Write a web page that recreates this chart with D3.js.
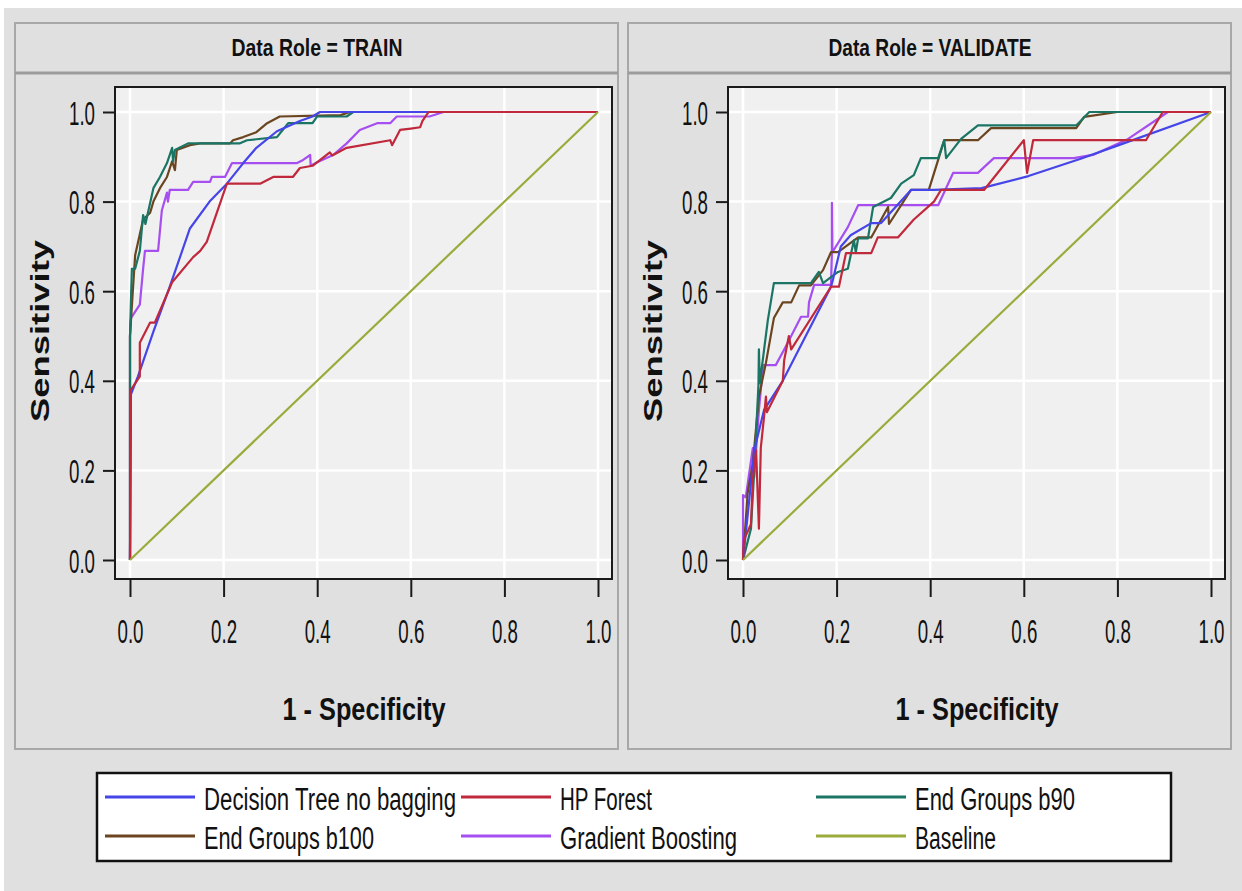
<!DOCTYPE html>
<html><head><meta charset="utf-8">
<script src="https://cdn.jsdelivr.net/npm/d3@7"></script>
<style>html,body{margin:0;padding:0;background:#fff;}svg{display:block;}</style>
</head><body>
<svg id="chart" width="1242" height="891"></svg>
<script>
// ---------- data ----------
const seriesNames = ["Decision Tree no bagging","HP Forest","End Groups b90","End Groups b100","Gradient Boosting","Baseline"];
const seriesColors = ["#4545e8","#c0283c","#1b7565","#6a4520","#a64ef0","#9aab3c"];
const xTicks = [0,0.2,0.4,0.6,0.8,1.0];
const yTicks = [0,0.2,0.4,0.6,0.8,1.0];
const panelTitles = ["Data Role = TRAIN","Data Role = VALIDATE"];

// TRAIN
const trainDecisionTree = [[0,0],[0.002,0.37],[0.017,0.41],[0.05,0.51],[0.085,0.61],[0.128,0.74],[0.17,0.80],[0.207,0.84],[0.242,0.886],[0.27,0.92],[0.314,0.957],[0.363,0.98],[0.39,0.99],[0.406,1.0],[1,1]];
const trainHPForest = [[0,0],[0.002,0.38],[0.021,0.41],[0.021,0.485],[0.043,0.53],[0.053,0.53],[0.09,0.62],[0.135,0.676],[0.15,0.69],[0.164,0.71],[0.207,0.84],[0.278,0.84],[0.306,0.855],[0.348,0.855],[0.363,0.875],[0.39,0.88],[0.427,0.91],[0.432,0.903],[0.463,0.92],[0.556,0.937],[0.56,0.926],[0.577,0.96],[0.6,0.963],[0.62,0.966],[0.625,0.98],[0.638,1.0],[1,1]];
const trainB90 = [[0,0],[0,0.5],[0.002,0.58],[0.004,0.65],[0.011,0.65],[0.021,0.69],[0.028,0.77],[0.033,0.75],[0.05,0.83],[0.064,0.855],[0.079,0.886],[0.09,0.92],[0.092,0.89],[0.096,0.915],[0.124,0.93],[0.235,0.93],[0.25,0.937],[0.314,0.944],[0.338,0.975],[0.39,0.975],[0.4,0.99],[0.463,0.99],[0.477,1.0],[1,1]];
const trainB100 = [[0,0],[0,0.5],[0.006,0.6],[0.011,0.68],[0.028,0.76],[0.043,0.775],[0.05,0.80],[0.064,0.83],[0.079,0.855],[0.09,0.89],[0.096,0.87],[0.1,0.915],[0.128,0.926],[0.15,0.93],[0.214,0.93],[0.22,0.937],[0.242,0.944],[0.27,0.955],[0.293,0.975],[0.32,0.99],[0.45,0.993],[0.47,1.0],[1,1]];
const trainGradBoost = [[0,0],[0,0.5],[0.002,0.54],[0.021,0.57],[0.028,0.65],[0.032,0.69],[0.06,0.69],[0.068,0.78],[0.079,0.82],[0.081,0.80],[0.085,0.826],[0.124,0.826],[0.135,0.844],[0.171,0.844],[0.175,0.855],[0.203,0.855],[0.218,0.886],[0.357,0.886],[0.37,0.893],[0.385,0.904],[0.386,0.88],[0.4,0.888],[0.434,0.904],[0.463,0.93],[0.491,0.96],[0.528,0.975],[0.556,0.975],[0.57,0.99],[0.64,0.99],[0.67,1.0],[1,1]];
const trainBaseline = [[0,0],[1,1]];

// VALIDATE
const valDecisionTree = [[0,0],[0.01,0.1],[0.024,0.245],[0.045,0.335],[0.085,0.40],[0.188,0.61],[0.192,0.625],[0.209,0.70],[0.23,0.725],[0.274,0.752],[0.295,0.752],[0.359,0.826],[0.408,0.826],[0.51,0.83],[0.61,0.857],[0.72,0.895],[0.8,0.925],[1,1]];
const valHPForest = [[0,0],[0.002,0.045],[0.017,0.08],[0.021,0.18],[0.028,0.245],[0.034,0.07],[0.038,0.25],[0.045,0.32],[0.049,0.365],[0.051,0.33],[0.085,0.40],[0.088,0.446],[0.098,0.50],[0.103,0.47],[0.188,0.61],[0.205,0.61],[0.22,0.685],[0.274,0.685],[0.288,0.72],[0.331,0.72],[0.365,0.76],[0.408,0.80],[0.423,0.826],[0.515,0.826],[0.60,0.937],[0.607,0.864],[0.62,0.937],[0.861,0.937],[0.897,1.0],[1,1]];
const valB90 = [[0,0],[0.017,0.07],[0.024,0.2],[0.033,0.39],[0.034,0.47],[0.036,0.395],[0.053,0.535],[0.066,0.618],[0.145,0.618],[0.162,0.643],[0.171,0.618],[0.203,0.643],[0.224,0.65],[0.237,0.714],[0.241,0.687],[0.246,0.718],[0.267,0.718],[0.278,0.788],[0.316,0.808],[0.338,0.84],[0.365,0.859],[0.38,0.897],[0.417,0.897],[0.43,0.937],[0.434,0.897],[0.466,0.94],[0.502,0.97],[0.712,0.97],[0.74,1.0],[1,1]];
const valB100 = [[0,0],[0.01,0.15],[0.021,0.215],[0.034,0.365],[0.049,0.44],[0.066,0.54],[0.085,0.575],[0.103,0.575],[0.12,0.613],[0.145,0.613],[0.171,0.647],[0.188,0.687],[0.203,0.687],[0.246,0.72],[0.274,0.72],[0.31,0.788],[0.312,0.75],[0.359,0.826],[0.397,0.826],[0.417,0.893],[0.43,0.937],[0.502,0.937],[0.53,0.964],[0.712,0.964],[0.729,0.989],[0.8,1.0],[1,1]];
const valGradBoost = [[0,0],[0,0.145],[0.006,0.14],[0.021,0.25],[0.024,0.185],[0.034,0.335],[0.043,0.435],[0.07,0.435],[0.088,0.47],[0.103,0.50],[0.124,0.543],[0.139,0.543],[0.141,0.575],[0.152,0.614],[0.188,0.614],[0.19,0.687],[0.19,0.797],[0.191,0.687],[0.224,0.743],[0.246,0.792],[0.417,0.792],[0.449,0.864],[0.502,0.864],[0.536,0.897],[0.707,0.897],[0.75,0.905],[0.823,0.94],[0.908,1.0],[1,1]];
const valBaseline = [[0,0],[1,1]];

const trainSeries = [trainDecisionTree, trainHPForest, trainB90, trainB100, trainGradBoost, trainBaseline];
const valSeries = [valDecisionTree, valHPForest, valB90, valB100, valGradBoost, valBaseline];

// ---------- drawing ----------
const svg = d3.select("#chart");
const FONT = "'Liberation Sans', Arial, sans-serif";
svg.append("rect").attr("x",4).attr("y",8).attr("width",1238).attr("height",883).attr("fill","#e0e0e0");

const drawOrder = [4,3,2,0,1,5];

function drawPanel(dx, title, titleW, series) {
  const g = svg.append("g");
  g.append("rect").attr("x",15+dx).attr("y",23).attr("width",603).attr("height",726)
    .attr("fill","#e0e0e0").attr("stroke","#a8a8a8").attr("stroke-width",2);
  g.append("line").attr("x1",15+dx).attr("x2",618+dx).attr("y1",73).attr("y2",73)
    .attr("stroke","#9c9c9c").attr("stroke-width",3);
  g.append("text").attr("x",317+dx).attr("y",56).attr("text-anchor","middle")
    .attr("font-family",FONT).attr("font-weight","bold").attr("font-size",24)
    .attr("textLength",titleW).attr("lengthAdjust","spacingAndGlyphs").attr("fill","#111").text(title);

  const x = d3.scaleLinear().domain([0,1]).range([130+dx, 598+dx]);
  const y = d3.scaleLinear().domain([0,1]).range([560,112]);
  const fx0 = 115+dx, fx1 = 612+dx, fy0 = 87, fy1 = 579;

  g.append("rect").attr("x",fx0).attr("y",fy0).attr("width",fx1-fx0).attr("height",fy1-fy0).attr("fill","#f0f0f0");
  g.selectAll(".gy").data(yTicks).join("line").attr("x1",fx0).attr("x2",fx1)
    .attr("y1",d=>y(d)).attr("y2",d=>y(d)).attr("stroke","#ffffff").attr("stroke-width",2.5);
  g.selectAll(".gx").data(xTicks).join("line").attr("y1",fy0).attr("y2",fy1)
    .attr("x1",d=>x(d)).attr("x2",d=>x(d)).attr("stroke","#ffffff").attr("stroke-width",2.5);

  const line = d3.line().x(d=>x(d[0])).y(d=>y(d[1]));
  drawOrder.forEach(i => {
    g.append("path").datum(series[i]).attr("d",line).attr("fill","none")
      .attr("stroke",seriesColors[i]).attr("stroke-width",2.2).attr("stroke-linejoin","round");
  });

  g.append("rect").attr("x",fx0).attr("y",fy0).attr("width",fx1-fx0).attr("height",fy1-fy0)
    .attr("fill","none").attr("stroke","#1a1a1a").attr("stroke-width",2);

  const ay = g.append("g").attr("transform",`translate(${fx0},0)`)
    .call(d3.axisLeft(y).tickValues(yTicks).tickSize(12).tickFormat(d3.format(".1f")));
  const ax = g.append("g").attr("transform",`translate(0,${fy1})`)
    .call(d3.axisBottom(x).tickValues(xTicks).tickSize(18).tickFormat(d3.format(".1f")));
  [ay,ax].forEach(a => {
    a.select(".domain").remove();
    a.selectAll(".tick line").attr("stroke","#1a1a1a").attr("stroke-width",2);
    a.selectAll(".tick text").attr("font-family",FONT).attr("font-size",34).attr("fill","#111");
  });
  ay.selectAll(".tick text").attr("x",null).attr("dy",null).attr("text-anchor","end")
    .attr("transform","translate(-20,12) scale(0.55,1)");
  ax.selectAll(".tick text").attr("y",null).attr("dy",null).attr("text-anchor","middle")
    .attr("transform","translate(0,64) scale(0.55,1)");

  g.append("text").attr("x",364+dx).attr("y",720).attr("text-anchor","middle")
    .attr("font-family",FONT).attr("font-weight","bold").attr("font-size",32)
    .attr("textLength",163).attr("lengthAdjust","spacingAndGlyphs").attr("fill","#111").text("1 - Specificity");
  g.append("text").attr("transform",`translate(${49+dx},331) rotate(-90)`).attr("text-anchor","middle")
    .attr("font-family",FONT).attr("font-weight","bold").attr("font-size",26)
    .attr("textLength",182).attr("lengthAdjust","spacingAndGlyphs").attr("fill","#111").text("Sensitivity");
}

drawPanel(0, panelTitles[0], 171, trainSeries);
drawPanel(613, panelTitles[1], 203, valSeries);

// legend
const legendOrder = [0,1,2,3,4,5];
const legCols = [105, 461, 816];
const legRows = [797, 836];
const legTextW = [252, 92, 160, 170, 177, 81];
const lg = svg.append("g");
lg.append("rect").attr("x",97).attr("y",773).attr("width",1074).attr("height",88)
  .attr("fill","#ffffff").attr("stroke","#111").attr("stroke-width",2.5);
legendOrder.forEach((i,k) => {
  const cx = legCols[k%3], cy = legRows[Math.floor(k/3)];
  lg.append("line").attr("x1",cx).attr("x2",cx+90).attr("y1",cy).attr("y2",cy)
    .attr("stroke",seriesColors[i]).attr("stroke-width",3);
  lg.append("text").attr("x",cx+99).attr("y",cy+13).attr("font-family",FONT).attr("font-size",31)
    .attr("textLength",legTextW[i]).attr("lengthAdjust","spacingAndGlyphs").attr("fill","#111").text(seriesNames[i]);
});
</script>
</body></html>
